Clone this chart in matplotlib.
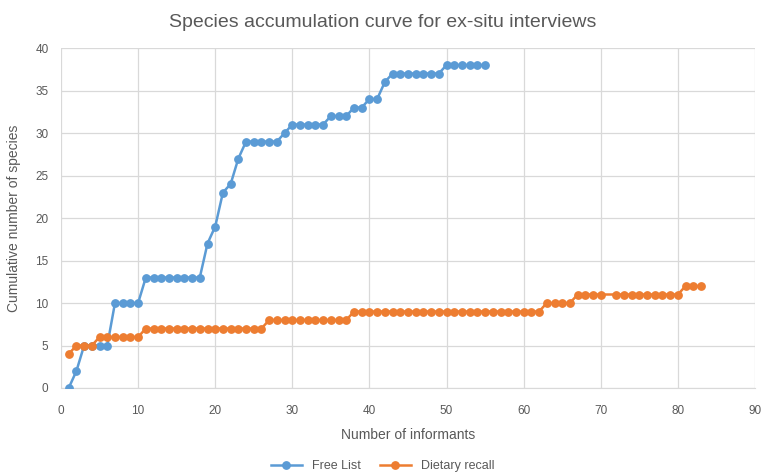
import matplotlib
matplotlib.use('Agg')
from matplotlib import pyplot as plt
import numpy as np

plt.rcParams['font.family'] = ['Liberation Sans', 'DejaVu Sans']

# Free List
free_x = list(range(1, 56))
free_y = [0, 2, 5, 5, 5, 5, 10, 10, 10, 10,
          13, 13, 13, 13, 13, 13, 13, 13, 17, 19,
          23, 24, 27, 29, 29, 29, 29, 29, 30, 31,
          31, 31, 31, 31, 32, 32, 32, 33, 33, 34,
          34, 36, 37, 37, 37, 37, 37, 37, 37, 38,
          38, 38, 38, 38, 38]

# Dietary recall (no point at 71)
diet_x = list(range(1, 71)) + list(range(72, 84))
diet_y = ([4, 5, 5, 5] + [6] * 6 + [7] * 16 + [8] * 11 + [9] * 25
          + [10] * 4 + [11] * 4 + [11] * 9 + [12] * 3)

xticks = list(range(0, 100, 10))
yticks = list(range(0, 45, 5))

text_col = '#595959'
grid_col = '#d9d9d9'

fig = plt.figure(figsize=(7.65, 4.73), dpi=100)
ax = fig.add_axes([61 / 765, 1 - 388 / 473, 694 / 765, 340 / 473])

ax.plot(free_x, free_y, color='#5B9BD5', marker='o', markersize=5.3, linewidth=1.8, label='Free List', zorder=3)
ax.plot(diet_x, diet_y, color='#ED7D31', marker='o', markersize=5.3, linewidth=1.8, label='Dietary recall', zorder=3)

ax.set_xlim(0, 90)
ax.set_ylim(0, 40)
ax.set_xticks(xticks)
ax.set_yticks(yticks)
ax.grid(True, color=grid_col, linewidth=0.9)
ax.set_axisbelow(True)
for s in ['top', 'right', 'left']:
    ax.spines[s].set_visible(False)
ax.spines['bottom'].set_color(grid_col)
ax.tick_params(axis='both', length=0, labelsize=8.5, labelcolor=text_col, pad=9)
ax.tick_params(axis='x', pad=12)

ax.set_xlabel('Number of informants', fontsize=10, color=text_col, labelpad=8)
ax.set_ylabel('Cumulative number of species', fontsize=10, color=text_col, labelpad=10)
fig.suptitle('Species accumulation curve for ex-situ interviews', fontsize=14, color=text_col, y=0.97)

fig.legend(loc='lower center', ncol=2, frameon=False, fontsize=9, labelcolor=text_col,
           bbox_to_anchor=(0.5, -0.022), handlelength=2.5, columnspacing=1.5)

plt.savefig('out.png', dpi=100)
